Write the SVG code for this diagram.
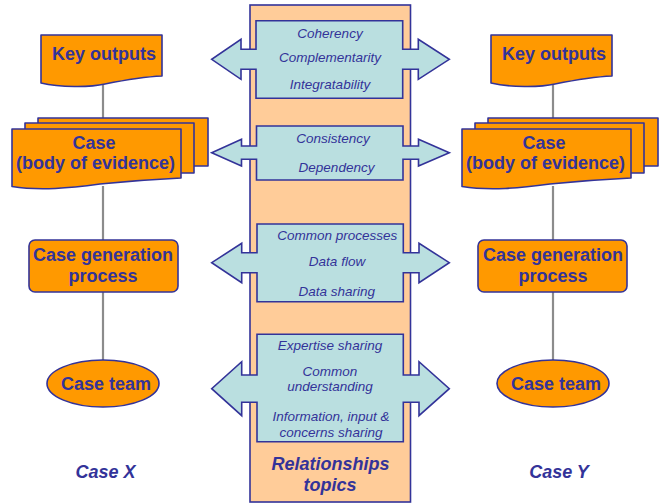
<svg xmlns="http://www.w3.org/2000/svg" width="661" height="504" viewBox="0 0 661 504">
<style>
.orange{fill:#FF9900;stroke:#333399;stroke-width:1.6;stroke-linejoin:round}
.band{fill:#FFCC99;stroke:#333399;stroke-width:1.6}
.arrow{fill:#BADFE0;stroke:#333399;stroke-width:1.6;stroke-linejoin:miter}
.conn{stroke:#8C8C8C;stroke-width:2.2;fill:none}
.lbl{font-family:"Liberation Sans",Arial,sans-serif;font-weight:bold;font-size:18px;fill:#333399;text-anchor:middle}
.it{font-family:"Liberation Sans",Arial,sans-serif;font-style:italic;font-size:13.5px;fill:#333399;text-anchor:middle}
.bi{font-family:"Liberation Sans",Arial,sans-serif;font-style:italic;font-weight:bold;font-size:18px;fill:#333399;text-anchor:middle}
</style>
<rect width="661" height="504" fill="#FFFFFF"/>
<g id="connectors">
<line class="conn" x1="103" y1="84" x2="103" y2="120"/>
<line class="conn" x1="103" y1="186" x2="103" y2="241"/>
<line class="conn" x1="103" y1="292" x2="103" y2="361"/>
<line class="conn" x1="553" y1="84" x2="553" y2="120"/>
<line class="conn" x1="553" y1="186" x2="553" y2="241"/>
<line class="conn" x1="553" y1="292" x2="553" y2="361"/>
</g>
<g id="relationships-column">
<rect class="band" x="250" y="5" width="160.5" height="497"/>
</g>
<g id="rel-1">
<path class="arrow" d="M256,20.7 H402.7 V49.3 H418.3 V39.3 L449.3,59.3 L418.3,79.3 V69.3 H402.7 V98.3 H256 V69.3 H241 V79.3 L211.7,59.3 L241,39.3 V49.3 H256 Z"/>
<text class="it" x="330" y="38">Coherency</text>
<text class="it" x="330" y="62">Complementarity</text>
<text class="it" x="330" y="88.5">Integratability</text>
</g>
<g id="rel-2">
<path class="arrow" d="M256.5,126 H403 V146 H418.5 V139.3 L449.3,152.7 L418.5,166 V159.3 H403 V180 H256.5 V159.3 H241.5 V166 L211.7,152.7 L241.5,139.3 V146 H256.5 Z"/>
<text class="it" x="333" y="143">Consistency</text>
<text class="it" x="336.5" y="172">Dependency</text>
</g>
<g id="rel-3">
<path class="arrow" d="M257,224 H403.3 V252.7 H419 V243.3 L449.3,262.7 L419,282.7 V272.7 H403.3 V301.7 H257 V272.7 H241.7 V282.7 L211.7,262.7 L241.7,243.3 V252.7 H257 Z"/>
<text class="it" x="337.3" y="239.5">Common processes</text>
<text class="it" x="337" y="265.5">Data flow</text>
<text class="it" x="336.7" y="296">Data sharing</text>
</g>
<g id="rel-4">
<path class="arrow" d="M257,334.3 H403.3 V375 H419 V361.7 L449.3,388.7 L419,415.7 V402.3 H403.3 V441.7 H257 V402.3 H241.7 V415.7 L211.7,388.7 L241.7,361.7 V375 H257 Z"/>
<text class="it" x="330" y="349.5">Expertise sharing</text>
<text class="it" x="330" y="375.5">Common</text>
<text class="it" x="330" y="391">understanding</text>
<text class="it" x="331" y="421">Information, input &amp;</text>
<text class="it" x="331" y="436.5">concerns sharing</text>
</g>
<g id="rel-title">
<text class="bi" x="330.5" y="469.5">Relationships</text>
<text class="bi" x="330" y="490.5">topics</text>
</g>
<g id="x-key-outputs">
<path class="orange" d="M41,35 H162 V76 C140,77 125,80 105,84 C90,87.5 60,87.5 41,83 Z"/>
<text class="lbl" x="104" y="60">Key outputs</text>
</g>
<g id="x-case">
<rect class="orange" x="38" y="118" width="170" height="48"/>
<rect class="orange" x="25" y="123" width="169" height="50"/>
<path class="orange" d="M12,129 H181 V178 C160,179 130,181 100,184 C70,188 40,191 12,186.5 Z"/>
<text class="lbl" x="94" y="148.5">Case</text>
<text class="lbl" x="95.5" y="169">(body of evidence)</text>
</g>
<g id="x-process">
<rect class="orange" x="29" y="240" width="149" height="52" rx="6"/>
<text class="lbl" x="103" y="261">Case generation</text>
<text class="lbl" x="103" y="282">process</text>
</g>
<g id="x-team">
<ellipse class="orange" cx="103" cy="383.5" rx="56" ry="23.5"/>
<text class="lbl" x="106" y="390">Case team</text>
</g>
<g id="x-label">
<text class="bi" x="105.5" y="478">Case X</text>
</g>
<g id="y-key-outputs">
<path class="orange" d="M491,35 H612 V76 C590,77 575,80 555,84 C540,87.5 510,87.5 491,83 Z"/>
<text class="lbl" x="554" y="60">Key outputs</text>
</g>
<g id="y-case">
<rect class="orange" x="488" y="118" width="170" height="48"/>
<rect class="orange" x="475" y="123" width="169" height="50"/>
<path class="orange" d="M462,129 H631 V178 C610,179 580,181 550,184 C520,188 490,191 462,186.5 Z"/>
<text class="lbl" x="544" y="148.5">Case</text>
<text class="lbl" x="545.5" y="169">(body of evidence)</text>
</g>
<g id="y-process">
<rect class="orange" x="478" y="240" width="149" height="52" rx="6"/>
<text class="lbl" x="553" y="261">Case generation</text>
<text class="lbl" x="553" y="282">process</text>
</g>
<g id="y-team">
<ellipse class="orange" cx="553" cy="383.5" rx="56" ry="23.5"/>
<text class="lbl" x="556" y="390">Case team</text>
</g>
<g id="y-label">
<text class="bi" x="559" y="478">Case Y</text>
</g>
</svg>
